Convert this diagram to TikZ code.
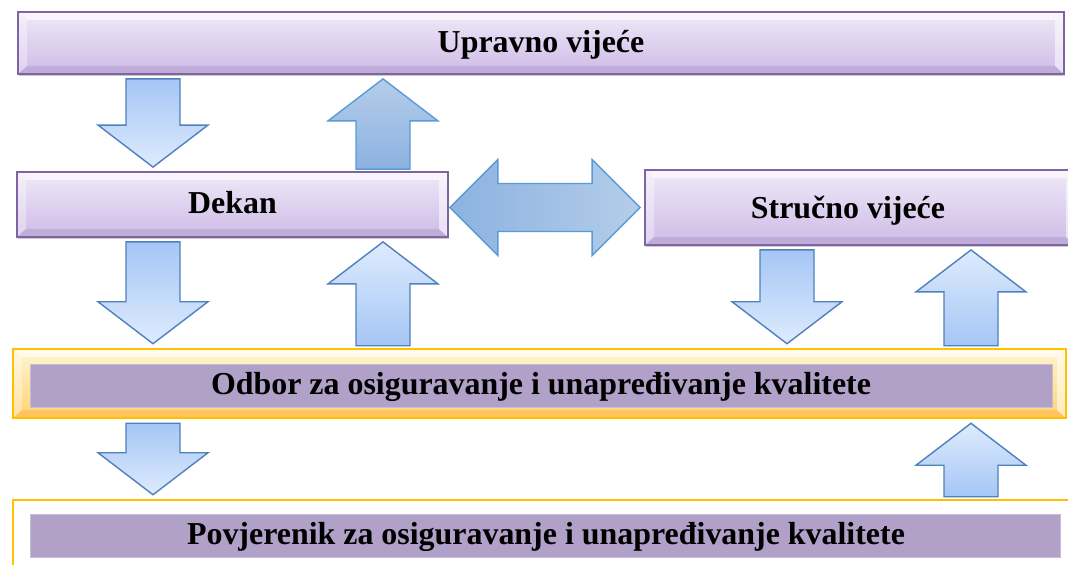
\documentclass[tikz,border=0pt]{standalone}
\usepackage{fontspec}
\setmainfont{Liberation Serif}
\usepackage{tikz}
\usetikzlibrary{calc}
\usetikzlibrary{fit}
\usetikzlibrary{shadows}

\definecolor{boxline}{HTML}{8064A2}
\definecolor{boxtop}{HTML}{EFE9F8}
\definecolor{boxbot}{HTML}{CEBBE6}
\definecolor{gold}{HTML}{FFC000}
\definecolor{goldtop}{HTML}{FFF6D2}
\definecolor{goldbot}{HTML}{FFD370}
\definecolor{lilac}{HTML}{B1A0C7}
\definecolor{arrline}{HTML}{4F81BD}
\definecolor{arrdark}{HTML}{A5C6F5}
\definecolor{arrlight}{HTML}{DEEBFD}
\definecolor{arredge}{HTML}{5B9BD5}
\definecolor{arrmid}{HTML}{8CB2E0}
\definecolor{arrpale}{HTML}{B4CDEA}

\tikzset{
  bevel/.style={path picture={
    \path (path picture bounding box.north west) coordinate (pnw)
          (path picture bounding box.south east) coordinate (pse);
    \fill[white, opacity=.6] (pnw) -- (pnw -| pse) -- ($(pnw -| pse)+(-9,8)$) -- ($(pnw)+(9,8)$) -- cycle;
    \fill[white, opacity=.35] (pnw) -- ($(pnw)+(9,8)$) -- ($(pse -| pnw)+(9,-8)$) -- (pse -| pnw) -- cycle;
    \fill[#1, opacity=.2] (pse -| pnw) -- ($(pse -| pnw)+(9,-8)$) -- ($(pse)+(-9,-8)$) -- (pse) -- cycle;
    \fill[white, opacity=.55] (pse) -- ($(pse)+(-9,-8)$) -- ($(pnw -| pse)+(-9,8)$) -- (pnw -| pse) -- cycle;
  }},
  vbox/.style={draw=boxline, line width=1.3pt, top color=boxtop, bottom color=boxbot,
    inner sep=0pt, bevel=boxline,
    drop shadow={shadow xshift=1pt, shadow yshift=-1.2pt, opacity=.35, fill=black!60}},
  goldbox/.style={draw=gold, line width=1.8pt, top color=goldtop, bottom color=goldbot,
    inner sep=0pt, bevel=orange},
  goldframe/.style={draw=gold, line width=1.8pt, fill=white, inner sep=0pt},
  lilacbar/.style={fill=lilac, draw=lilac!70!white, line width=.5pt, inner sep=0pt},
  label/.style={font=\fontsize{22.7}{26}\selectfont\bfseries, text=black, anchor=base, inner sep=0pt},
  dnblock/.style={draw=arrline, line width=1pt, line join=miter, top color=arrdark, bottom color=arrlight},
  upblock/.style={draw=arrline, line width=1pt, line join=miter, top color=arrlight, bottom color=arrdark},
  upblockdark/.style={draw=arredge, line width=1pt, line join=miter, top color=arrpale, bottom color=arrmid},
  bothblock/.style={draw=arredge, line width=1pt, line join=miter, left color=arrmid, right color=arrpale}
}

\newcommand{\arrdown}[3][dnblock]{%
  \draw[#1] ($(#2)+(-27,4)$) -- ($(#3)+(-27,-46)$) -- ($(#3)+(-55,-46)$)
    -- ($(#3)+(0,-4)$) -- ($(#3)+(55,-46)$) -- ($(#3)+(27,-46)$)
    -- ($(#2)+(27,4)$) -- cycle;}
\newcommand{\arrup}[3][upblock]{%
  \draw[#1] ($(#2)+(-27,-2)$) -- ($(#3)+(-27,46)$) -- ($(#3)+(-55,46)$)
    -- ($(#3)+(0,4)$) -- ($(#3)+(55,46)$) -- ($(#3)+(27,46)$)
    -- ($(#2)+(27,-2)$) -- cycle;}
\newcommand{\arrboth}[3][bothblock]{%
  \draw[#1] ($(#2)+(1,0)$) -- ($(#2)+(49,-48)$) -- ($(#2)+(49,-24)$)
    -- ($(#3)+(-52,-24)$) -- ($(#3)+(-52,-48)$) -- ($(#3)+(-4,0)$)
    -- ($(#3)+(-52,48)$) -- ($(#3)+(-52,24)$) -- ($(#2)+(49,24)$)
    -- ($(#2)+(49,48)$) -- cycle;}

\begin{document}
\begin{tikzpicture}[x=0.025cm, y=-0.025cm]
\useasboundingbox[fill=white] (0,0) rectangle (1068,565);

\coordinate (cl) at (153,0);
\coordinate (cm) at (383,0);
\coordinate (cd) at (787,0);
\coordinate (cu) at (971,0);

\node[vbox, fit={(18,12) (1064,74)}] (upr) {};
\node[label] at ($(upr.center)+(0,10)$) {Upravno vijeće};
\node[vbox, fit={(17,172) (448,237)}] (dekan) {};
\node[label] at ($(dekan.center)+(0,9)$) {Dekan};
\node[vbox, fit={(645,170) (1075,245)}] (strucno) {};
\node[label] at ($(strucno.center)+(-12,11)$) {Stručno vijeće};

\node[goldbox, fit={(13,349) (1066,418)}] (odborbox) {};
\node[lilacbar, fit={(30,364) (1052,407)}] (odbor) {};
\node[label] at ($(odbor.center)+(0,9)$) {Odbor za osiguravanje i unapređivanje kvalitete};
\node[goldframe, fit={(13,500) (1085,600)}] (povbox) {};
\node[lilacbar, fit={(30,514) (1060,557)}] (pov) {};
\node[label] at ($(pov.center)+(1,9)$) {Povjerenik za osiguravanje i unapređivanje kvalitete};

\arrdown{upr.south -| cl}{dekan.north -| cl}
\arrup[upblockdark]{dekan.north -| cm}{upr.south -| cm}
\arrboth{dekan.east |- strucno.west}{strucno.west}
\arrdown{dekan.south -| cl}{odborbox.north -| cl}
\arrup{odborbox.north -| cm}{dekan.south -| cm}
\arrdown{strucno.south -| cd}{odborbox.north -| cd}
\arrup{odborbox.north -| cu}{strucno.south -| cu}
\arrdown{odborbox.south -| cl}{povbox.north -| cl}
\arrup{povbox.north -| cu}{odborbox.south -| cu}
\end{tikzpicture}
\end{document}
